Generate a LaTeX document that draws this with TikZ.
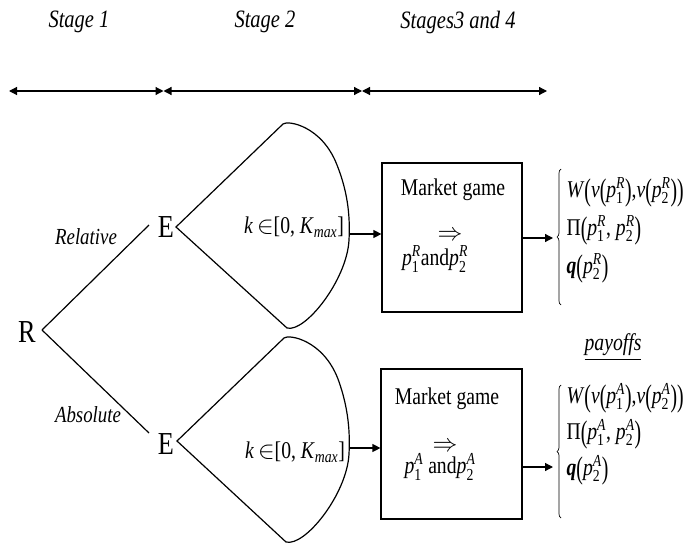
\documentclass[tikz,border=0pt]{standalone}
\usepackage{amsmath}
\usepackage{fontspec}
\setmainfont{Liberation Serif}[FakeStretch=0.82]
\usetikzlibrary{arrows.meta,decorations.pathreplacing}
\newcommand{\pr}[2]{\textit{p}$_{\text{#1}}^{\textit{#2}}$}
\newcommand{\fs}[1]{\fontsize{#1}{#1}\selectfont}
\newcommand{\lp}{\raisebox{-3pt}{\scalebox{1}[1.3]{(}}}
\newcommand{\rp}{\raisebox{-3pt}{\scalebox{1}[1.3]{)}}}
\begin{document}
\begin{tikzpicture}[x=1pt,y=-1pt,line width=1.2pt,
    arr/.style={-{Triangle[length=8pt,width=8pt]}},
    darr/.style={{Triangle[length=8pt,width=8pt]}-{Triangle[length=8pt,width=8pt]}},
    brc/.style={decorate,decoration={brace,amplitude=4pt},line width=0.7pt}]
                \useasboundingbox (0,0) rectangle (693,543);
                % stages
                \node[font=\fs{25}\itshape] (st1) at (79,22) {Stage 1};
                \node[font=\fs{25}\itshape] (st2) at (265,22) {Stage 2};
                \node[font=\fs{25}\itshape] (st3) at (458,22) {Stages3 and 4};
                \coordinate (s0) at (9,91);
                \coordinate (s1) at (163.5,91);
                \coordinate (s2) at (362,91);
                \coordinate (s3) at (547,91);
                \draw[darr] (s0) -- (s1);
                \draw[darr] (s1) -- (s2);
                \draw[darr] (s2) -- (s3);
                % tree
                \node[font=\fs{32}] (R) at (27,332) {R};
                \node[font=\fs{32}] (E1) at (166,227) {E};
                \node[font=\fs{32}] (E2) at (166,444) {E};
                \coordinate (Rv) at (42,330);
                \coordinate (E1v) at (176,227);
                \coordinate (E2v) at (177,441);
                \coordinate (r1) at (149,225);
                \coordinate (r2) at (149,433);
                \draw (Rv) -- (r1);
                \draw (Rv) -- (r2);
                \node[font=\fs{23}\itshape] (rel) at (86,237) {Relative};
                \node[font=\fs{23}\itshape] (abs) at (88,415) {Absolute};
                \draw (E1v) -- (283,124) .. controls (288,120) and (322,126) .. (337,165)
                    .. controls (349,195) and (350,220) .. (349,240)
                    .. controls (347,280) and (305,333) .. (287,328) -- cycle;
                \draw (E2v) -- (284,338) .. controls (289,334) and (323,340) .. (338,379)
                    .. controls (349,409) and (350,434) .. (349,454)
                    .. controls (347,494) and (305,547) .. (286,542) -- cycle;
                \node[font=\fs{24}] (k1) at (294,227) {\textit{k}\,$\in$[0, \textit{K}$_{\textit{max}}$]};
                \node[font=\fs{24}] (k2) at (295,452) {\textit{k}\,$\in$[0, \textit{K}$_{\textit{max}}$]};
                % market game
                \node[draw,minimum width=140pt,minimum height=149pt,inner sep=0pt] (box1) at (452,237.5) {};
                \node[draw,minimum width=141pt,minimum height=150pt,inner sep=0pt] (box2) at (451.5,444) {};
                \node[font=\fs{24}] (mg1) at (453,190) {Market game};
                \node[font=\fs{24}] (mg2) at (447,399) {Market game};
                \node[font=\fs{30}] (im1) at (450,236) {$\Rightarrow$};
                \node[font=\fs{30}] (im2) at (445,447) {$\Rightarrow$};
                \node[font=\fs{24}] (pp1) at (435,259) {\pr{1}{R}and\pr{2}{R}};
                \node[font=\fs{24}] (pp2) at (440,467) {\pr{1}{A} and\pr{2}{A}};
                \coordinate (o1) at (349,234);
                \coordinate (o2) at (349,448);
                \draw[arr] (o1) -- (o1 -| box1.west);
                \draw[arr] (o2) -- (o2 -| box2.west);
                % payoffs
                \node[anchor=west,align=left,inner sep=0pt,font=\fontsize{24}{38}\selectfont] (pay1) at (566,230) {%
                    \textit{W}\lp\textit{v}\lp\pr{1}{R}\rp,\textit{v}\lp\pr{2}{R}\rp\rp\\
                    Π\lp\pr{1}{R}, \pr{2}{R}\rp\\
                    \textbf{\textit{q}}\lp\pr{2}{R}\rp};
                \node[anchor=west,align=left,inner sep=0pt,font=\fontsize{24}{36}\selectfont] (pay2) at (566,434) {%
                    \textit{W}\lp\textit{v}\lp\pr{1}{A}\rp,\textit{v}\lp\pr{2}{A}\rp\rp\\
                    Π\lp\pr{1}{A}, \pr{2}{A}\rp\\
                    \textbf{\textit{q}}\lp\pr{2}{A}\rp};
                \coordinate (b1) at (561,238);
                \coordinate (b2) at (561,467);
                \draw[brc] (561,305) -- (561,169);
                \draw[brc] (561,518) -- (561,385);
                \draw[arr] (box1.east |- b1) -- ([xshift=-8pt]b1);
                \draw[arr] (box2.east |- b2) -- ([xshift=-8pt]b2);
                \node[font=\fs{24}\itshape] (pf) at (613,347) {\underline{payoffs}};
            \end{tikzpicture}
\end{document}
